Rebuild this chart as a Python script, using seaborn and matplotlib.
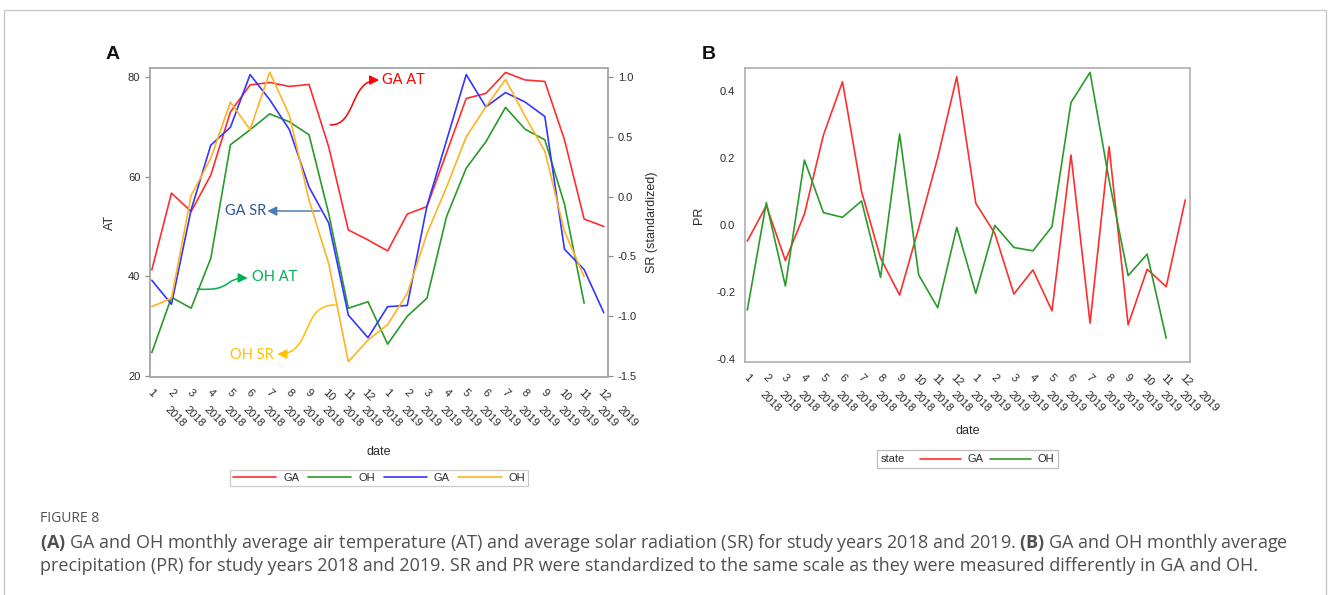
import numpy as np
import pandas as pd
import matplotlib
matplotlib.use("Agg")
import matplotlib.pyplot as plt
import seaborn as sns
from matplotlib.lines import Line2D
from matplotlib.patches import FancyArrowPatch, Rectangle
from matplotlib.path import Path
from matplotlib.offsetbox import AnchoredOffsetbox, HPacker, TextArea, DrawingArea
from matplotlib.transforms import ScaledTranslation

# ---- monthly series, Jan 2018 .. Dec 2019 ----
months = [str(m) for m in range(1, 13)] * 2
years = ["2018"] * 12 + ["2019"] * 12

# air temperature (AT)
ga_at = [41.3, 56.7, 53.0, 60.3, 73.0, 78.4, 78.9, 78.1, 78.5, 66.0, 49.3, 47.3,
         45.1, 52.5, 54.0, 64.8, 75.7, 76.7, 80.9, 79.4, 79.1, 67.4, 51.5, 50.0]
oh_at = [24.7, 35.8, 33.6, 43.6, 66.4, 69.4, 72.6, 71.0, 68.4, 52.6, 33.6, 34.9,
         26.4, 32.0, 35.6, 52.0, 61.7, 67.0, 73.9, 69.5, 67.4, 54.5, 34.6, np.nan]

# standardized solar radiation (SR)
ga_sr = [-0.70, -0.90, -0.11, 0.43, 0.58, 1.02, 0.81, 0.56, 0.08, -0.22, -0.99, -1.18,
         -0.92, -0.91, -0.08, 0.47, 1.02, 0.75, 0.87, 0.79, 0.67, -0.44, -0.61, -0.97]
oh_sr = [-0.92, -0.85, 0.01, 0.32, 0.79, 0.56, 1.04, 0.68, -0.03, -0.56, -1.38, -1.20,
         -1.07, -0.81, -0.31, 0.08, 0.50, 0.75, 0.98, 0.67, 0.38, -0.29, -0.67, np.nan]

# standardized precipitation (PR)
ga_pr = [-0.049, 0.057, -0.107, 0.032, 0.268, 0.427, 0.099, -0.100, -0.210, -0.010, 0.200, 0.442,
         0.064, -0.026, -0.207, -0.135, -0.257, 0.208, -0.294, 0.233, -0.299, -0.133, -0.185, 0.074]
oh_pr = [-0.255, 0.066, -0.183, 0.193, 0.036, 0.022, 0.071, -0.157, 0.271, -0.150, -0.248, -0.008,
         -0.205, -0.002, -0.068, -0.078, -0.006, 0.365, 0.455, 0.133, -0.152, -0.088, -0.339, np.nan]

states = ["GA", "OH"]

RED, GREEN, BLUE, ORANGE = "#FF2E2E", "#2A9A2A", "#3535FF", "#FFB224"
FRAME = "#A8A8A8"
TXT = "#2B2B2B"

sns.set_style("white")
plt.rcParams.update({
    "font.family": ["Liberation Sans", "DejaVu Sans"],
    "axes.unicode_minus": False,
    "mathtext.fontset": "custom",
    "mathtext.rm": "Open Sans",
    "mathtext.bf": "Open Sans:bold",
})

n = len(months)
idx = np.arange(n)
df = pd.DataFrame({
    "t": np.tile(idx, 2),
    "state": np.repeat(states, n),
    "AT": ga_at + oh_at,
    "SR": ga_sr + oh_sr,
    "PR": ga_pr + oh_pr,
})

fig = plt.figure(figsize=(13.28, 5.95), dpi=100)
axA = fig.add_axes([0.1130, 0.3664, 0.3449, 0.5193])
axB = fig.add_axes([0.5610, 0.3916, 0.3351, 0.4941])

LW = 1.2
sns.lineplot(data=df, x="t", y="AT", hue="state", palette={"GA": RED, "OH": GREEN},
             ax=axA, legend=False, errorbar=None, sort=False, linewidth=LW)
axA2 = axA.twinx()
sns.lineplot(data=df, x="t", y="SR", hue="state", palette={"GA": BLUE, "OH": ORANGE},
             ax=axA2, legend=False, errorbar=None, sort=False, linewidth=LW)
sns.lineplot(data=df, x="t", y="PR", hue="state", palette={"GA": RED, "OH": GREEN},
             ax=axB, legend=False, errorbar=None, sort=False, linewidth=LW)


def style_frame(ax):
    for sp in ax.spines.values():
        sp.set_visible(True)
        sp.set_color(FRAME)
        sp.set_linewidth(1.1)
    ax.tick_params(axis="both", which="major", direction="out", length=3.5, width=0.9,
                   color="#8C8C8C", labelsize=8, labelcolor=TXT)


def date_axis(ax):
    ax.set_xticks(idx)
    ax.set_xticks(idx, minor=True)
    ax.xaxis.remove_overlapping_locs = False
    ax.tick_params(axis="x", which="major", pad=4)
    ax.tick_params(axis="x", which="minor", length=0, pad=20, labelsize=8, labelcolor=TXT)
    ax.set_xticklabels(months, rotation=-45, ha="center", va="top")
    ax.set_xticklabels(years, minor=True, rotation=-45, ha="left", va="top")
    shift = ScaledTranslation(11 / 100, 0, fig.dpi_scale_trans)
    for lab in ax.xaxis.get_minorticklabels():
        lab.set_transform(lab.get_transform() + shift)
    ax.set_xlabel("date", fontsize=9, color=TXT)


# ---- panel A ----
style_frame(axA)
style_frame(axA2)
axA.set_xlim(-0.09, 23.22)
axA.set_ylim(19.8, 81.8)
axA.set_yticks([20, 40, 60, 80])
axA2.set_ylim(-1.508, 1.075)
axA2.set_yticks([-1.5, -1.0, -0.5, 0.0, 0.5, 1.0])
axA2.set_yticklabels(["%.1f" % v for v in [-1.5, -1.0, -0.5, 0.0, 0.5, 1.0]])
date_axis(axA)
axA.set_ylabel("AT", fontsize=9, color=TXT)
axA.yaxis.set_label_coords(-0.074, 0.5)
axA2.set_ylabel("SR (standardized)", fontsize=9, color=TXT)
axA2.yaxis.set_label_coords(1.083, 0.5)
axA.xaxis.set_label_coords(0.5, -0.222)

legA = axA.legend(
    handles=[Line2D([], [], color=c, lw=LW) for c in (RED, GREEN, BLUE, ORANGE)],
    labels=["GA", "OH", "GA", "OH"], ncol=4, loc="upper center",
    bbox_to_anchor=(0.5, -0.302), fontsize=8, frameon=True, fancybox=False,
    handlelength=3.9, handletextpad=0.6, columnspacing=0.8, borderpad=0.25,
    borderaxespad=0)
legA.get_frame().set_edgecolor("#BDBDBD")
legA.get_frame().set_linewidth(0.9)
for t in legA.get_texts():
    t.set_color(TXT)

# callouts naming the four curves
ANN = dict(family=["Lato", "DejaVu Sans"], fontsize=10.5, va="center")
axA.text(0.506, 0.961, "GA AT", color="#FF0000", ha="left", transform=axA.transAxes, **ANN)
axA.text(0.254, 0.537, "GA SR", color="#2F5597", ha="right", transform=axA.transAxes, **ANN)
axA.text(0.223, 0.324, "OH AT", color="#00B050", ha="left", transform=axA.transAxes, **ANN)
axA.text(0.175, 0.071, "OH SR", color="#FFC000", ha="left", transform=axA.transAxes, **ANN)

C4 = [Path.MOVETO, Path.CURVE4, Path.CURVE4, Path.CURVE4]
callouts = [
    ([(0.393, 0.816), (0.450, 0.812), (0.436, 0.961), (0.500, 0.961)], C4, "#FF0000"),
    ([(0.371, 0.537), (0.256, 0.537)], [Path.MOVETO, Path.LINETO], "#4A7EBB"),
    ([(0.103, 0.285), (0.180, 0.275), (0.160, 0.322), (0.213, 0.320)], C4, "#00B050"),
    ([(0.404, 0.233), (0.328, 0.236), (0.356, 0.074), (0.278, 0.074)], C4, "#FFC000"),
]
for verts, codes, col in callouts:
    arr = FancyArrowPatch(path=Path(verts, codes), arrowstyle="-|>,head_length=0.55,head_width=0.28",
                          mutation_scale=10, color=col, lw=1.1, transform=axA.transAxes)
    axA.add_artist(arr)

# ---- panel B ----
style_frame(axB)
axB.set_xlim(-0.12, 23.25)
axB.set_ylim(-0.41, 0.468)
axB.set_yticks([-0.4, -0.2, 0.0, 0.2, 0.4])
axB.set_yticklabels(["%.1f" % v for v in [-0.4, -0.2, 0.0, 0.2, 0.4]])
date_axis(axB)
axB.set_ylabel("PR", fontsize=9, color=TXT)
axB.yaxis.set_label_coords(-0.09, 0.5)
axB.xaxis.set_label_coords(0.5, -0.214)


def swatch(color):
    da = DrawingArea(29, 8, 0, 0)
    da.add_artist(Line2D([0, 29], [4, 4], color=color, lw=LW))
    return da


tp = dict(size=8, color=TXT)
entries = HPacker(children=[swatch(RED), TextArea("GA", textprops=tp),
                            swatch(GREEN), TextArea("OH", textprops=tp)],
                  sep=5, align="center")
box = HPacker(children=[TextArea("state", textprops=tp), entries], sep=11, align="center")
legB = AnchoredOffsetbox(loc="upper center", child=box, pad=0.25, borderpad=0, frameon=True,
                         bbox_to_anchor=(0.5, -0.299), bbox_transform=axB.transAxes)
legB.patch.set_edgecolor("#BDBDBD")
legB.patch.set_linewidth(0.9)
axB.add_artist(legB)

# ---- panel letters ----
fig.text(0.0851, 0.909, "A", fontsize=14, fontweight="bold", ha="center", va="center", color="#111111")
fig.text(0.5339, 0.909, "B", fontsize=14, fontweight="bold", ha="center", va="center", color="#111111")

# ---- caption ----
CAP = dict(family=["Open Sans", "DejaVu Sans"], color="#505050", ha="left", va="center")
fig.text(40 / 1328, 1 - 518 / 595, "FIGURE 8", fontsize=10, **CAP)
fig.text(40 / 1328, 1 - 543 / 595,
         r"$\mathbf{(A)}$ GA and OH monthly average air temperature (AT) and average solar radiation (SR) "
         r"for study years 2018 and 2019. $\mathbf{(B)}$ GA and OH monthly average",
         fontsize=13, **CAP)
fig.text(40 / 1328, 1 - 566 / 595,
         "precipitation (PR) for study years 2018 and 2019. SR and PR were standardized to the same "
         "scale as they were measured differently in GA and OH.",
         fontsize=13, **CAP)

# outer figure border
fig.add_artist(Rectangle((4 / 1328, -0.05), 1322 / 1328, 1.05 - 10 / 595,
                         transform=fig.transFigure, fill=False, edgecolor="#C8C8C8", lw=1.0))

fig.savefig("out.png", dpi=100)
